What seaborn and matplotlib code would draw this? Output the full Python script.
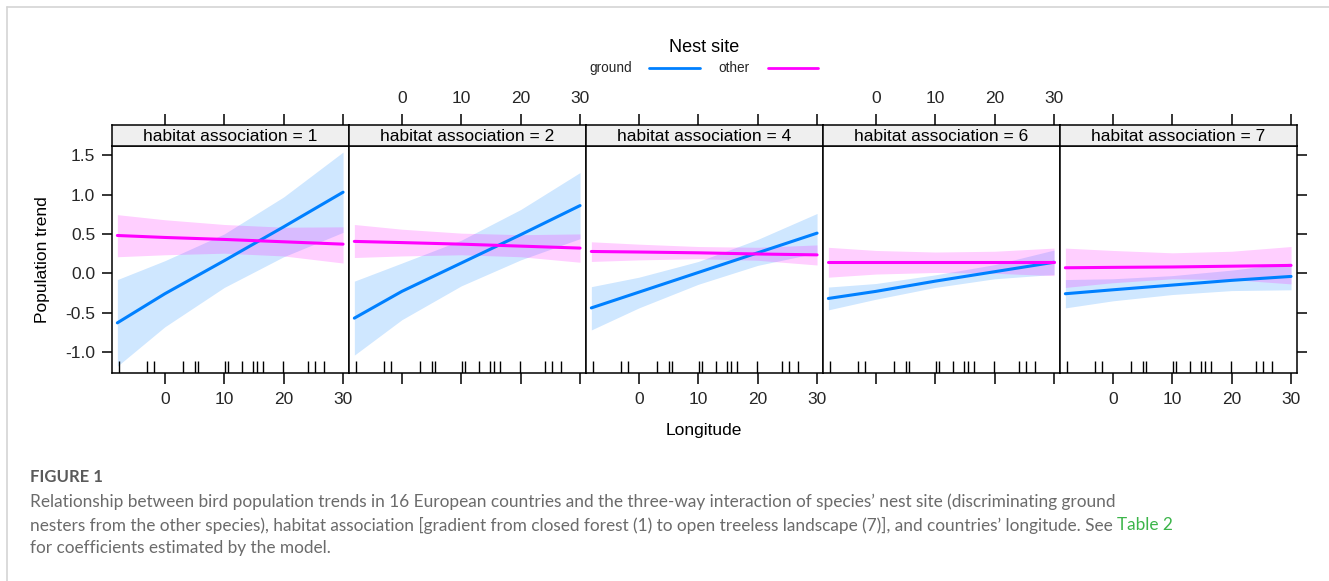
import numpy as np
import pandas as pd
import matplotlib
matplotlib.use("Agg")
import matplotlib.pyplot as plt
from matplotlib.lines import Line2D
import seaborn as sns

# ---------------- data ----------------
habitat_levels = ["1", "2", "4", "6", "7"]
nest_sites = ["ground", "other"]
longitude_grid = [-8, 0, 10, 20, 30]

ground_fit = [[-0.63, -0.26, 0.16, 0.59, 1.03],
              [-0.57, -0.23, 0.13, 0.49, 0.86],
              [-0.44, -0.24, 0.01, 0.26, 0.51],
              [-0.32, -0.23, -0.10, 0.02, 0.14],
              [-0.26, -0.21, -0.15, -0.09, -0.04]]
ground_lower = [[-1.18, -0.68, -0.18, 0.21, 0.52],
                [-1.04, -0.59, -0.16, 0.17, 0.44],
                [-0.72, -0.44, -0.14, 0.10, 0.26],
                [-0.465, -0.33, -0.18, -0.07, -0.015],
                [-0.44, -0.35, -0.27, -0.22, -0.21]]
ground_upper = [[-0.08, 0.16, 0.50, 0.97, 1.54],
                [-0.10, 0.13, 0.42, 0.81, 1.28],
                [-0.17, -0.05, 0.15, 0.43, 0.76],
                [-0.175, -0.13, -0.02, 0.11, 0.295],
                [-0.08, -0.07, -0.03, 0.04, 0.13]]

other_fit = [[0.48, 0.455, 0.43, 0.40, 0.37],
             [0.405, 0.39, 0.37, 0.345, 0.32],
             [0.277, 0.27, 0.26, 0.245, 0.234],
             [0.14, 0.14, 0.14, 0.14, 0.14],
             [0.07, 0.075, 0.08, 0.09, 0.10]]
other_lower = [[0.21, 0.235, 0.255, 0.22, 0.13],
               [0.20, 0.22, 0.235, 0.21, 0.14],
               [0.15, 0.17, 0.185, 0.165, 0.105],
               [-0.05, -0.01, 0.01, 0.0, -0.03],
               [-0.18, -0.12, -0.07, -0.08, -0.135]]
other_upper = [[0.745, 0.68, 0.62, 0.585, 0.59],
               [0.62, 0.56, 0.51, 0.49, 0.50],
               [0.40, 0.37, 0.34, 0.33, 0.36],
               [0.33, 0.29, 0.27, 0.28, 0.32],
               [0.32, 0.29, 0.26, 0.28, 0.34]]

country_longitudes = [-7.75, -2.98, -1.85, 3.03, 5.0, 5.56, 10.1, 10.56,
                      12.98, 14.78, 15.5, 16.57, 19.94, 24.1, 25.3, 26.74]

x_ticks = [0, 10, 20, 30]
y_ticks = [-1.0, -0.5, 0.0, 0.5, 1.0, 1.5]
y_tick_labels = ["-1.0", "-0.5", "0.0", "0.5", "1.0", "1.5"]

caption_title = "FIGURE 1"
caption_lines = [
    "Relationship between bird population trends in 16 European countries and the three-way interaction of species\u2019 nest site (discriminating ground",
    "nesters from the other species), habitat association [gradient from closed forest (1) to open treeless landscape (7)], and countries\u2019 longitude. See ",
    "for coefficients estimated by the model.",
]
caption_link = "Table 2"

# ---------------- build long table ----------------
rows = []
for i, h in enumerate(habitat_levels):
    for j, lon in enumerate(longitude_grid):
        rows.append(dict(habitat=h, nest="ground", Longitude=lon,
                         fit=ground_fit[i][j], lower=ground_lower[i][j], upper=ground_upper[i][j]))
        rows.append(dict(habitat=h, nest="other", Longitude=lon,
                         fit=other_fit[i][j], lower=other_lower[i][j], upper=other_upper[i][j]))
df = pd.DataFrame(rows)

# ---------------- style ----------------
sns.set_theme(style="white")
plt.rcParams["font.family"] = ["Liberation Sans", "DejaVu Sans"]

palette = {"ground": "#0080ff", "other": "#ff00ff"}

W, H = 1329, 581
fig = plt.figure(figsize=(W / 100, H / 100), dpi=100)
fig.patch.set_facecolor("white")


def rect(x0, y0, x1, y1):
    return [x0 / W, 1 - y1 / H, (x1 - x0) / W, (y1 - y0) / H]


edges = [112, 349, 586, 823, 1060, 1297]
panel_top, panel_bottom = 146, 373
strip_top = 125
xlim = (-8.9, 31.0)
ylim = (-1.267, 1.617)
tick_fs = 12.5

for i, h in enumerate(habitat_levels):
    ax = fig.add_axes(rect(edges[i], panel_top, edges[i + 1], panel_bottom))
    sub = df[df["habitat"] == h]
    for nest in nest_sites:
        s = sub[sub["nest"] == nest]
        ax.fill_between(s["Longitude"], s["lower"], s["upper"],
                        color=palette[nest], alpha=0.19, lw=0)
    sns.lineplot(data=sub, x="Longitude", y="fit", hue="nest", palette=palette,
                 hue_order=nest_sites, legend=False, ax=ax, lw=2.2, errorbar=None)
    sns.rugplot(x=country_longitudes, height=0.052, color="black", lw=2.0, ax=ax)
    ax.set_xlim(*xlim)
    ax.set_ylim(*ylim)
    ax.set_xlabel("")
    ax.set_ylabel("")
    ax.set_xticks(x_ticks)
    ax.set_xticklabels([str(t) for t in x_ticks])
    ax.set_yticks(y_ticks)
    ax.set_yticklabels(y_tick_labels)
    for sp in ax.spines.values():
        sp.set_color("black")
        sp.set_linewidth(1.1)
    ax.tick_params(axis="x", bottom=True, top=False, labelbottom=(i % 2 == 0),
                   direction="out", length=8, width=1.1, color="black",
                   labelsize=tick_fs, pad=6)
    ax.tick_params(axis="y", left=(i == 0), right=(i == 4), labelleft=(i == 0),
                   labelright=False, direction="out", length=7, width=1.1,
                   color="black", labelsize=tick_fs, pad=5)

    # strip
    st = fig.add_axes(rect(edges[i], strip_top, edges[i + 1], panel_top))
    st.set_facecolor("#efefef")
    st.set_xlim(*xlim)
    st.set_ylim(0, 1)
    st.set_xticks(x_ticks)
    st.set_xticklabels([str(t) for t in x_ticks])
    st.set_yticks([])
    st.tick_params(axis="x", bottom=False, top=True, labelbottom=False,
                   labeltop=(i % 2 == 1), direction="out", length=8, width=1.1,
                   color="black", labelsize=tick_fs, pad=6)
    for sp in st.spines.values():
        sp.set_color("black")
        sp.set_linewidth(1.1)
    st.text(0.5, 0.45, f"habitat association = {h}", transform=st.transAxes,
            ha="center", va="center", fontsize=12.5, color="black")

# axis labels
fig.text(42 / W, 1 - 260 / H, "Population trend", rotation=90, ha="center",
         va="center", fontsize=12.5, color="black")
fig.text(704 / W, 1 - 430 / H, "Longitude", ha="center", va="center",
         fontsize=12.5, color="black")

# legend
fig.text(704 / W, 1 - 48 / H, "Nest site", ha="center", va="center",
         fontsize=13, color="black")
leg_y = 1 - 68 / H
fig.text(632 / W, leg_y, "ground", ha="right", va="center", fontsize=9.8)
fig.add_artist(Line2D([649 / W, 700 / W], [leg_y, leg_y], color=palette["ground"], lw=2))
fig.text(749 / W, leg_y, "other", ha="right", va="center", fontsize=9.8)
fig.add_artist(Line2D([768 / W, 818 / W], [leg_y, leg_y], color=palette["other"], lw=2))

# frame lines (light gray border)
fig.add_artist(Line2D([7 / W, 1], [1 - 7 / H, 1 - 7 / H], color="#d4d4d4", lw=1.2))
fig.add_artist(Line2D([7 / W, 7 / W], [0, 1 - 7 / H], color="#d4d4d4", lw=1.2))

# caption (font size fitted to the reference line width)
cap_font = ["Lato", "Open Sans", "DejaVu Sans"]
fig.canvas.draw()
renderer = fig.canvas.get_renderer()

probe = fig.text(0, 0, caption_lines[0], fontsize=10, family=cap_font, fontweight="normal")
w10 = probe.get_window_extent(renderer=renderer).width
probe.remove()
cap_fs = 10 * 1086 / w10

fig.text(30 / W, 1 - 477 / H, caption_title, ha="left", va="center",
         fontsize=12, color="#5a5a5a", family=cap_font, fontweight="bold")
cap_y = [502, 525, 548]
texts = []
for k, line in enumerate(caption_lines):
    t = fig.text(30 / W, 1 - cap_y[k] / H, line, ha="left", va="center",
                 fontsize=cap_fs, color="#6b6b6b", family=cap_font, fontweight="normal")
    texts.append(t)
fig.canvas.draw()
bb = texts[1].get_window_extent(renderer=renderer)
fig.text(bb.x1 / W, 1 - cap_y[1] / H, caption_link, ha="left", va="center",
         fontsize=cap_fs, color="#3cb54a", family=cap_font, fontweight="normal")

fig.savefig("out.png", dpi=100, facecolor="white")
